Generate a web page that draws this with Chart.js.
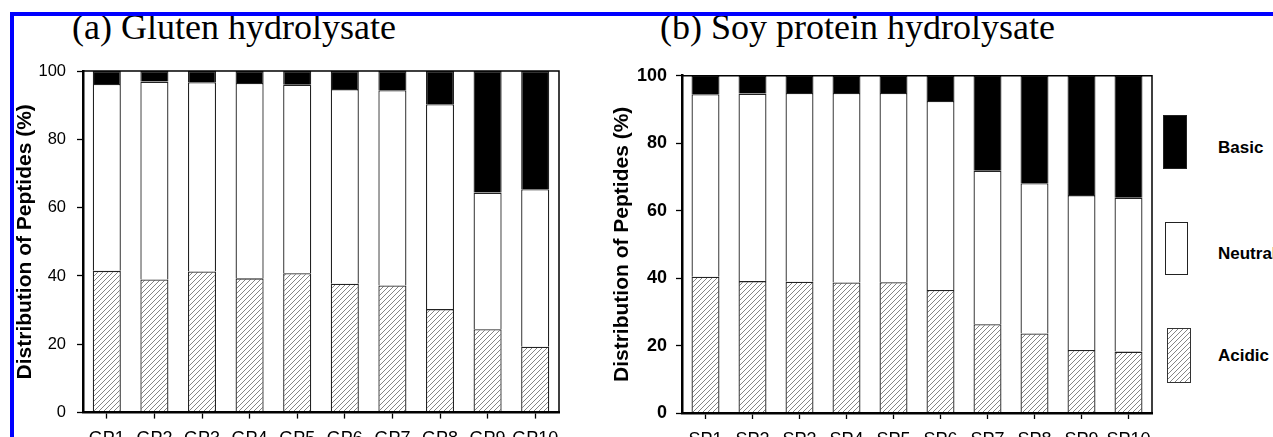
<!DOCTYPE html>
<html>
<head>
<meta charset="utf-8">
<script src="https://cdn.jsdelivr.net/npm/chart.js@4.4.1/dist/chart.umd.min.js"></script>
<style>
  html, body { margin: 0; padding: 0; background: #fff; }
  body { width: 1273px; height: 437px; overflow: hidden; position: relative; }
  .blueTop { position: absolute; left: 10px; top: 12px; width: 1263px; height: 4px; background: #0000ff; }
  .blueLeft { position: absolute; left: 10px; top: 12px; width: 4px; height: 425px; background: #0000ff; }
  .ptitle { position: absolute; top: 9px; font-family: "Liberation Serif", "Times New Roman", serif; font-size: 36px; line-height: 36px; color: #000; white-space: nowrap; }
  .cwrap { position: absolute; top: 0; width: 600px; height: 460px; }
  .lbox { position: absolute; box-sizing: border-box; }
  .ltext { position: absolute; left: 1218px; font-family: "Liberation Sans", Arial, sans-serif; font-weight: bold; font-size: 17px; line-height: 20px; color: #000; white-space: nowrap; }
</style>
</head>
<body>
<div class="ptitle" style="left:72px">(a) Gluten hydrolysate</div>
<div class="ptitle" style="left:660px">(b) Soy protein hydrolysate</div>
<div class="cwrap" style="left:0px"><canvas id="ca" width="600" height="460"></canvas></div>
<div class="cwrap" style="left:600px"><canvas id="cb" width="600" height="460"></canvas></div>
<div class="blueTop"></div>
<div class="blueLeft"></div>

<div class="lbox" id="lgBasic" style="left:1163px; top:115px; width:24px; height:54px; background:#000; border:1px solid #222;"></div>
<div class="lbox" id="lgNeutral" style="left:1165px; top:222px; width:23px; height:53px; background:#fff; border:1.5px solid #222;"></div>
<div class="lbox" id="lgAcidic" style="left:1167px; top:328px; width:24px; height:55px; border:1px solid #333;"></div>
<div class="ltext" id="ltBasic" style="top:138px"></div>
<div class="ltext" id="ltNeutral" style="top:244px"></div>
<div class="ltext" id="ltAcidic" style="top:346px"></div>

<script>
// ---- data ----
const seriesNames = ['Acidic', 'Neutral', 'Basic'];
const legendOrder = ['Basic', 'Neutral', 'Acidic'];
const yTitle = 'Distribution of Peptides (%)';
const yTicks = [0, 20, 40, 60, 80, 100];

const categoriesA = ['GP1', 'GP2', 'GP3', 'GP4', 'GP5', 'GP6', 'GP7', 'GP8', 'GP9', 'GP10'];
const acidicA  = [41.5, 39.0, 41.3, 39.3, 40.8, 37.7, 37.2, 30.3, 24.4, 19.3];
const neutralA = [54.7, 57.9, 55.4, 57.2, 55.2, 57.0, 57.2, 60.0, 40.0, 46.1];
const basicA   = [3.8, 3.1, 3.3, 3.5, 4.0, 5.3, 5.6, 9.7, 35.6, 34.6];

const categoriesB = ['SP1', 'SP2', 'SP3', 'SP4', 'SP5', 'SP6', 'SP7', 'SP8', 'SP9', 'SP10'];
const acidicB  = [40.4, 39.1, 38.9, 38.7, 38.8, 36.5, 26.3, 23.6, 18.7, 18.2];
const neutralB = [54.1, 55.6, 56.0, 56.2, 56.1, 56.0, 45.5, 44.5, 45.9, 45.6];
const basicB   = [5.5, 5.3, 5.1, 5.1, 5.1, 7.5, 28.2, 31.9, 35.4, 36.2];

// ---- hatch pattern ----
function hatchTile() {
  const c = document.createElement('canvas');
  c.width = 5; c.height = 5;
  const g = c.getContext('2d');
  g.fillStyle = '#fff'; g.fillRect(0, 0, 5, 5);
  g.strokeStyle = '#666'; g.lineWidth = 0.8;
  g.beginPath();
  g.moveTo(0, 5); g.lineTo(5, 0);
  g.moveTo(-1, 1); g.lineTo(1, -1);
  g.moveTo(4, 6); g.lineTo(6, 4);
  g.stroke();
  return c;
}
const tile = hatchTile();
const hatch = tile.getContext('2d').createPattern(tile, 'repeat');
document.getElementById('lgAcidic').style.backgroundImage = 'url(' + tile.toDataURL() + ')';
document.getElementById('ltBasic').textContent = legendOrder[0];
document.getElementById('ltNeutral').textContent = legendOrder[1];
document.getElementById('ltAcidic').textContent = legendOrder[2];

const framePlugin = {
  id: 'frame',
  afterDraw(chart) {
    const { ctx, chartArea: a } = chart;
    ctx.save();
    ctx.strokeStyle = '#000';
    ctx.lineWidth = 1.5;
    ctx.beginPath();
    ctx.moveTo(a.left, a.top);
    ctx.lineTo(a.right, a.top);
    ctx.lineTo(a.right, a.bottom);
    ctx.stroke();
    ctx.restore();
  }
};

function makeChart(id, cats, acid, neut, basic, cfg) {
  const bw = cfg.barPct;
  const ds = (label, data, bg) => ({
    label, data, backgroundColor: bg, borderColor: '#222', borderWidth: 1.3,
    categoryPercentage: 1.0, barPercentage: bw
  });
  return new Chart(document.getElementById(id), {
    type: 'bar',
    data: {
      labels: cats,
      datasets: [
        ds(seriesNames[0], acid, hatch),
        ds(seriesNames[1], neut, '#ffffff'),
        ds(seriesNames[2], basic, '#000000')
      ]
    },
    options: {
      responsive: false,
      animation: false,
      layout: { padding: { left: 0, top: cfg.top, right: cfg.right, bottom: 0 } },
      plugins: { legend: { display: false }, tooltip: { enabled: false }, title: { display: false } },
      scales: {
        x: {
          stacked: true,
          offset: true,
          afterFit: s => { s.height = cfg.xh; },
          grid: { display: true, drawOnChartArea: false, drawTicks: true, tickLength: 6, tickColor: '#000', tickWidth: 1.3, offset: false },
          border: { display: true, color: '#000', width: 2.5, z: 1 },
          ticks: { color: '#000', padding: 10, maxRotation: 0, autoSkip: false,
                   font: { family: '"Liberation Sans", Arial, sans-serif', size: 18, weight: 'normal' } }
        },
        y: {
          stacked: true,
          min: 0, max: 100,
          afterFit: s => { s.width = cfg.yw; },
          afterBuildTicks: s => { s.ticks = yTicks.map(v => ({ value: v })); },
          grid: { display: true, drawOnChartArea: false, drawTicks: true, tickLength: 6, tickColor: '#000', tickWidth: 1.3 },
          border: { display: true, color: '#000', width: 2.5, z: 1 },
          ticks: { color: '#000', padding: cfg.tpad,
                   font: { family: '"Liberation Sans", Arial, sans-serif', size: cfg.tsize, weight: cfg.tweight } },
          title: { display: true, text: yTitle, color: '#000', padding: { top: cfg.titlePad, bottom: 0 },
                   font: { family: '"Liberation Sans", Arial, sans-serif', size: 21, weight: 'bold', lineHeight: 1.2 } }
        }
      }
    },
    plugins: [framePlugin]
  });
}

makeChart('ca', categoriesA, acidicA, neutralA, basicA,
  { top: 71, right: 41, xh: 47.4, yw: 83, tpad: 11, tsize: 16.5, tweight: 'normal', titlePad: 12.4, barPct: 0.59 });
makeChart('cb', categoriesB, acidicB, neutralB, basicB,
  { top: 75.7, right: 48, xh: 47, yw: 82, tpad: 9, tsize: 18, tweight: 'bold', titlePad: 9.4, barPct: 0.595 });
</script>
</body>
</html>
